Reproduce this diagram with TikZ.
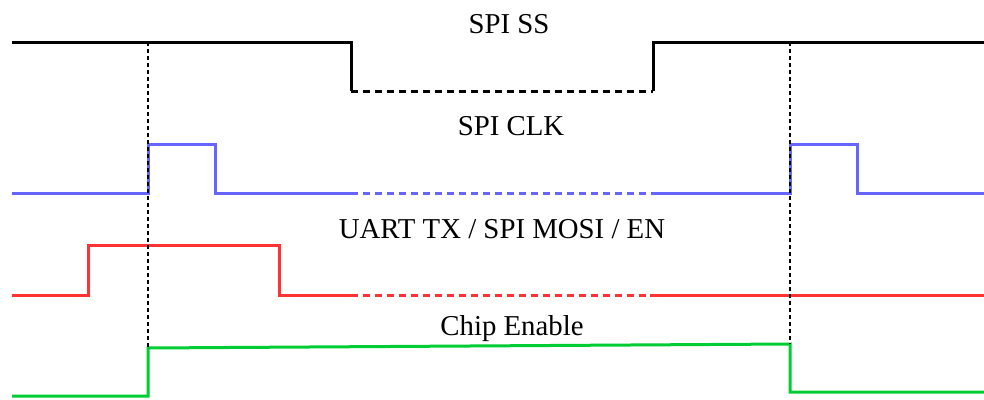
\documentclass[tikz,border=0pt]{standalone}
\usepackage{fontspec}
\setmainfont{Liberation Serif}
\definecolor{clkblue}{RGB}{102,102,255}
\definecolor{txred}{RGB}{255,51,51}
\definecolor{engreen}{RGB}{0,204,51}
\begin{document}
\begin{tikzpicture}[x=1pt,y=-1pt,
  wave/.style={line width=3pt,line join=miter},
  idle/.style={wave,dash pattern=on 7pt off 5pt},
  marker/.style={line width=1.6pt,dash pattern=on 4pt off 3pt},
  sig/.style={font=\fontsize{28.8}{32}\selectfont,anchor=base,inner sep=0pt}]
\useasboundingbox (0,0) rectangle (984,399);

% signal names
\node[sig] (lss)  at (509,33)  {SPI SS};
\node[sig] (lclk) at (511,135) {SPI CLK};
\node[sig] (ltx)  at (502,238) {UART TX / SPI MOSI / EN};
\node[sig] (len)  at (512,335) {Chip Enable};

% SPI SS
\draw[wave] (12,42) -- (351,42) -- (351,91);
\draw[idle] (351,91) -- (653,91);
\draw[wave] (653,91) -- (653,42) -- (984,42);

% SPI CLK
\draw[wave,clkblue] (12,193) -- (148,193) -- (148,144) -- (215,144) -- (215,193) -- (351,193);
\draw[idle,clkblue] (351,193) -- (653,193);
\draw[wave,clkblue] (653,193) -- (790,193) -- (790,144) -- (857,144) -- (857,193) -- (984,193);

% UART TX / SPI MOSI / EN
\draw[wave,txred] (12,295) -- (88,295) -- (88,245) -- (279,245) -- (279,295) -- (351,295);
\draw[idle,txred] (351,295) -- (650,295);
\draw[wave,txred] (650,295) -- (984,295);

% Chip Enable
\draw[wave,engreen] (12,396) -- (148,396) -- (148,348) -- (790,344) -- (790,392) -- (984,392);

% timing markers
\draw[marker] (148,42) -- (148,348);
\draw[marker] (790,42) -- (790,344);
\end{tikzpicture}
\end{document}
